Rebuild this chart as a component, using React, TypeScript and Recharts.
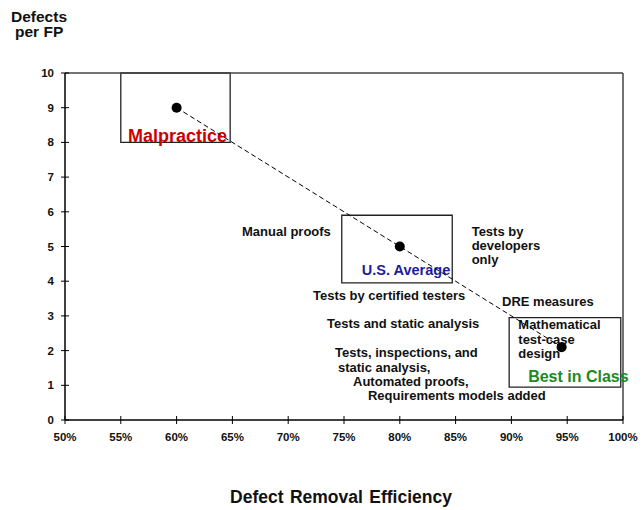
import {
  ReferenceArea,
  ReferenceDot,
  ReferenceLine,
  Scatter,
  ScatterChart,
  XAxis,
  YAxis,
} from "recharts";

const FONT = '"Liberation Sans", Arial, sans-serif';

// DRE (%) vs defects per function point
const efficiency = [60, 80, 94.5];
const defectsPerFP = [9, 5, 2.1];

const xTicks = [50, 55, 60, 65, 70, 75, 80, 85, 90, 95, 100];
const yTicks = [0, 1, 2, 3, 4, 5, 6, 7, 8, 9, 10];

const boxes = [
  { x1: 55, x2: 64.8, y1: 8, y2: 10 },
  { x1: 74.8, x2: 84.7, y1: 3.95, y2: 5.9 },
  { x1: 89.8, x2: 99.8, y1: 0.95, y2: 2.95 },
];

type Note = { x: number; y: number; lines: string[]; color: string; size: number };

const notes: Note[] = [
  { x: 55.65, y: 8.01, lines: ["Malpractice"], color: "#cc0000", size: 18 },
  { x: 76.6, y: 4.18, lines: ["U.S. Average"], color: "#1c1c9e", size: 14.5 },
  { x: 91.5, y: 1.1, lines: ["Best in Class"], color: "#1e8a1e", size: 16 },
  { x: 65.86, y: 5.3, lines: ["Manual proofs"], color: "#111", size: 13 },
  { x: 86.44, y: 5.31, lines: ["Tests by", "developers", "only"], color: "#111", size: 13 },
  { x: 72.22, y: 3.46, lines: ["Tests by certified testers"], color: "#111", size: 13 },
  { x: 89.16, y: 3.29, lines: ["DRE measures"], color: "#111", size: 13 },
  { x: 73.48, y: 2.65, lines: ["Tests and static analysis"], color: "#111", size: 13 },
  { x: 90.62, y: 2.61, lines: ["Mathematical", "test-case", "design"], color: "#111", size: 13 },
  { x: 74.19, y: 1.82, lines: ["Tests, inspections, and"], color: "#111", size: 13 },
  { x: 74.46, y: 1.39, lines: ["static analysis,"], color: "#111", size: 13 },
  { x: 75.81, y: 0.98, lines: ["Automated proofs,"], color: "#111", size: 13 },
  { x: 77.15, y: 0.58, lines: ["Requirements models added"], color: "#111", size: 13 },
];

const points = efficiency.map((e, i) => ({ x: e, y: defectsPerFP[i] }));

const XTick = (props: any) => {
  const { x, y, payload } = props;
  return (
    <g>
      <line x1={x} x2={x} y1={y - 4} y2={y + 4} stroke="#000" strokeWidth={1} />
      <text
        x={x}
        y={y + 21}
        textAnchor="middle"
        fontFamily={FONT}
        fontWeight="bold"
        fontSize={11.5}
        fill="#111"
      >
        {`${payload.value}%`}
      </text>
    </g>
  );
};

const YTick = (props: any) => {
  const { x, y, payload } = props;
  return (
    <g>
      <line x1={x - 4} x2={x + 4} y1={y} y2={y} stroke="#000" strokeWidth={1} />
      <text
        x={x - 11}
        y={y + 4}
        textAnchor="end"
        fontFamily={FONT}
        fontWeight="bold"
        fontSize={11.5}
        fill="#111"
      >
        {payload.value}
      </text>
    </g>
  );
};

const noteShape = (note: Note) => (p: any) => (
  <text
    x={p.cx}
    y={p.cy}
    fontFamily={FONT}
    fontWeight="bold"
    fontSize={note.size}
    fill={note.color}
  >
    {note.lines.map((line, i) => (
      <tspan key={i} x={p.cx} dy={i === 0 ? 0 : 14.3}>
        {line}
      </tspan>
    ))}
  </text>
);

export default function App() {
  return (
    <div style={{ position: "absolute", left: 0, top: 0, width: 642, height: 510, background: "#fff" }}>
      <ScatterChart width={642} height={510} margin={{ top: 73, right: 19, left: 0, bottom: 0 }}>
        <XAxis
          type="number"
          dataKey="x"
          domain={[50, 100]}
          ticks={xTicks}
          interval={0}
          height={90}
          tickSize={0}
          tickMargin={0}
          tickLine={false}
          tick={<XTick />}
          axisLine={{ stroke: "#000", strokeWidth: 1.5 }}
        />
        <YAxis
          type="number"
          dataKey="y"
          domain={[0, 10]}
          ticks={yTicks}
          interval={0}
          width={65}
          tickSize={0}
          tickMargin={0}
          tickLine={false}
          tick={<YTick />}
          axisLine={{ stroke: "#000", strokeWidth: 1.5 }}
        />
        <ReferenceLine y={10} stroke="#444" strokeWidth={1.5} />
        <ReferenceLine x={100} stroke="#444" strokeWidth={1.5} />
        {boxes.map((b, i) => (
          <ReferenceArea
            key={i}
            x1={b.x1}
            x2={b.x2}
            y1={b.y1}
            y2={b.y2}
            fill="none"
            stroke="#222"
            strokeWidth={1.3}
          />
        ))}
        {notes.map((n, i) => (
          <ReferenceDot key={i} x={n.x} y={n.y} r={0} shape={noteShape(n)} />
        ))}
        <Scatter
          data={points}
          isAnimationActive={false}
          line={{ stroke: "#000", strokeWidth: 1, strokeDasharray: "5 3" }}
          shape={(p: any) => <circle cx={p.cx} cy={p.cy} r={5} fill="#000" />}
        />
      </ScatterChart>
      <svg
        width={642}
        height={510}
        style={{ position: "absolute", left: 0, top: 0, pointerEvents: "none" }}
      >
        <text x={11} y={21.5} fontFamily={FONT} fontWeight="bold" fontSize={15.5} fill="#111">
          Defects
        </text>
        <text x={15} y={37} fontFamily={FONT} fontWeight="bold" fontSize={15.5} fill="#111">
          per FP
        </text>
        <text
          x={341}
          y={503}
          textAnchor="middle"
          fontFamily={FONT}
          fontWeight="bold"
          fontSize={17.5}
          wordSpacing={1.5}
          fill="#111"
        >
          Defect Removal Efficiency
        </text>
      </svg>
    </div>
  );
}
